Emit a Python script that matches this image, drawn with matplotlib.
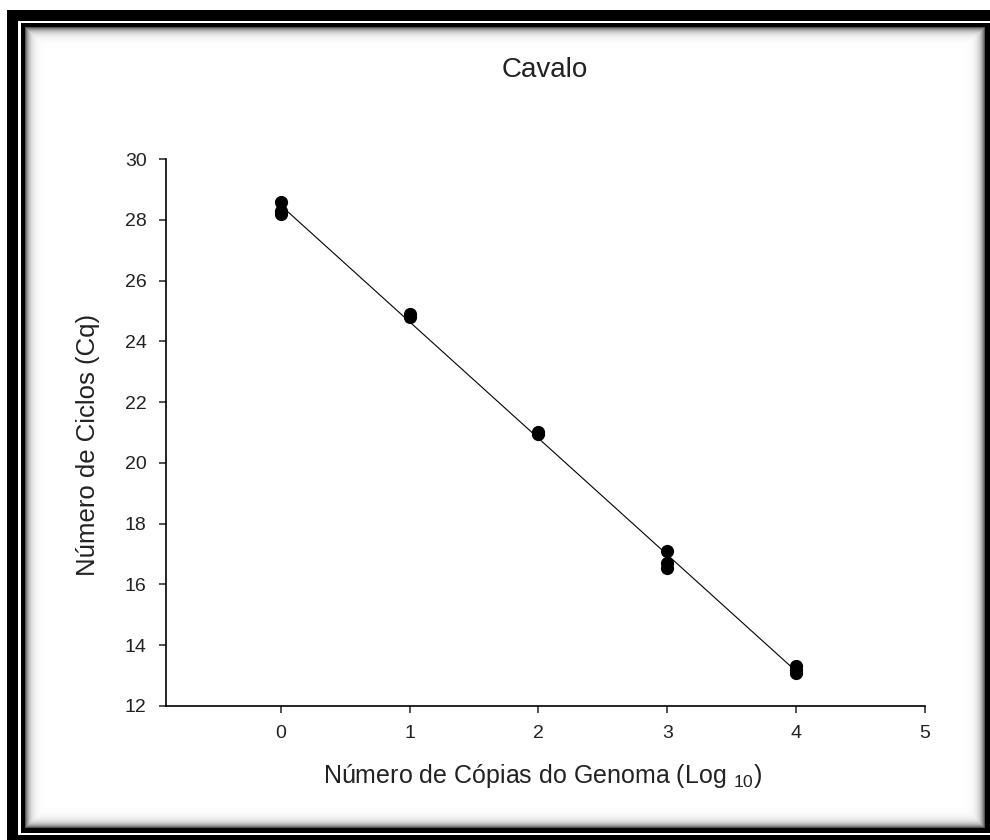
import numpy as np
import matplotlib
matplotlib.use("Agg")
import matplotlib.pyplot as plt
from matplotlib.patches import Rectangle

plt.rcParams['font.family'] = ['Liberation Sans', 'DejaVu Sans']
plt.rcParams['mathtext.fontset'] = 'custom'
plt.rcParams['mathtext.rm'] = 'Liberation Sans'
plt.rcParams['mathtext.it'] = 'Liberation Sans'

# copias do genoma (log10) e Cq
log_copias = [0, 0, 0, 1, 1, 2, 2, 3, 3, 3, 4, 4, 4]
cq = [28.6, 28.3, 28.2, 24.9, 24.8, 21.0, 20.95, 17.1, 16.7, 16.55, 13.3, 13.2, 13.1]
xticks = [0, 1, 2, 3, 4, 5]
yticks = [12, 14, 16, 18, 20, 22, 24, 26, 28, 30]

W, H = 990, 840
fig = plt.figure(figsize=(W / 100, H / 100), dpi=100)

# moldura (frame) em coordenadas de pixel
bg = fig.add_axes([0, 0, 1, 1])
bg.axis('off')
bg.add_patch(Rectangle((7, 10), 1100, 1100, color='black', lw=0, zorder=1))
bg.add_patch(Rectangle((18, 21), 1100, 814, color='white', lw=0, zorder=1))
bg.add_patch(Rectangle((21, 23), 969, 810, color='black', lw=0, zorder=1))

# sombra interna
x0, x1, y0, y1 = 25, 985, 27, 828
xx = np.arange(x0, x1) + 0.5
yy = np.arange(y0, y1) + 0.5
dx = np.minimum(xx - x0, x1 - xx)
dy = np.minimum(yy - y0, y1 - yy)
d = np.minimum(dx[None, :], dy[:, None])
shade = 1 - 0.75 * np.exp(-d / 4)
bg.imshow(shade, cmap='gray', vmin=0, vmax=1, extent=(x0, x1, y1, y0),
          interpolation='bilinear', aspect='auto', zorder=2)
bg.set_xlim(0, W)
bg.set_ylim(H, 0)

ax = fig.add_axes([166 / W, 1 - 706 / H, 759 / W, 547 / H])
ax.patch.set_visible(False)

ax.plot(log_copias, cq, 'o', color='black', markersize=8.5, zorder=3)

# reta de regressao
coef = np.polyfit(log_copias, cq, 1)
xs = np.array([min(log_copias), max(log_copias)])
ax.plot(xs, np.polyval(coef, xs), color='black', lw=0.8)

ax.set_xlim(-0.89, 5)
ax.set_ylim(12, 30)
ax.set_xticks(xticks)
ax.set_yticks(yticks)
ax.tick_params(direction='out', length=5, width=1.1, labelsize=14, colors='#222222', pad=9)
for s in ['top', 'right']:
    ax.spines[s].set_visible(False)
for s in ['left', 'bottom']:
    ax.spines[s].set_linewidth(1.2)

ax.set_xlabel('Número de Cópias do Genoma (Log $_{10}$)', fontsize=18, color='#222222', va='center')
ax.set_ylabel('Número de Ciclos (Cq)', fontsize=18.5, color='#222222', va='center')
ax.xaxis.set_label_coords((543 - 166) / 759, -(776 - 706) / 547)
ax.yaxis.set_label_coords((88 - 166) / 759, (706 - 445) / 547)
fig.text(545 / W, 1 - 70 / H, 'Cavalo', fontsize=20, color='#222222', ha='center', va='center')

fig.savefig('out.png', dpi=100)
